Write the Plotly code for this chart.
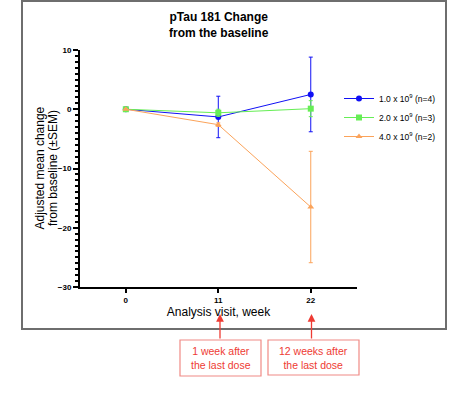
import plotly.graph_objects as go

# Visits (weeks) and adjusted mean change from baseline with SEM
weeks = [0, 11, 22]
dose_labels = ["1.0 x 10<sup>9</sup> (n=4)", "2.0 x 10<sup>9</sup> (n=3)", "4.0 x 10<sup>9</sup> (n=2)"]
mean_low = [0.0, -1.3, 2.5]
sem_low = [0.0, 3.5, 6.3]
mean_mid = [0.0, -0.6, 0.1]
sem_mid = [0.0, 0.6, 1.35]
mean_high = [0.0, -2.6, -16.5]
sem_high = [0.0, 0.3, 9.4]

colors = ["#1010f5", "#66ee55", "#fba35a"]
symbols = ["circle", "square", "triangle-up"]
means = [mean_low, mean_mid, mean_high]
sems = [sem_low, sem_mid, sem_high]

W, H = 449, 404
L, R, T, B = 80, 92, 50, 117
pw, ph = W - L - R, H - T - B


def px(x):
    return (x - L) / pw


def py(y):
    return (H - B - y) / ph


fig = go.Figure()
for lab, m, s, c, sym in zip(dose_labels, means, sems, colors, symbols):
    fig.add_trace(go.Scatter(
        x=weeks, y=m, name=lab, mode="lines+markers",
        line=dict(color=c, width=1),
        marker=dict(symbol=sym, size=6, color=c),
        error_y=dict(type="data", array=s, visible=True, color=c, thickness=1, width=2),
    ))

fam = "Liberation Sans, Arial"
fig.update_xaxes(
    range=[-5.45, 27.5], tickvals=weeks, ticktext=[str(w) for w in weeks],
    showline=True, linecolor="black", linewidth=2, ticks="outside", ticklen=4,
    tickwidth=1.5, tickcolor="black", showgrid=False, zeroline=False, automargin=False,
    tickfont=dict(family=fam, size=8, color="black", weight="bold"),
    title=dict(text="Analysis visit, week", font=dict(family=fam, size=12, color="black"), standoff=4),
)
fig.update_yaxes(
    range=[-30, 10], tickvals=[-30, -20, -10, 0, 10], showline=True, linecolor="black",
    linewidth=2, ticks="outside", ticklen=5, tickwidth=1.5, tickcolor="black",
    minor=dict(dtick=1, ticks="outside", ticklen=3, tickwidth=1.5, tickcolor="black"),
    showgrid=False, zeroline=False, automargin=False,
    tickfont=dict(family=fam, size=8, color="black", weight="bold"),
)

red = "#ee3b33"
shapes = [
    # outer frame
    dict(type="rect", xref="paper", yref="paper", x0=px(22), x1=px(446), y0=py(1), y1=py(329),
         line=dict(color="#6e6e6e", width=2)),
    # note boxes
    dict(type="rect", xref="paper", yref="paper", x0=px(180), x1=px(261), y0=py(340), y1=py(376),
         line=dict(color="#f08a85", width=1.2)),
    dict(type="rect", xref="paper", yref="paper", x0=px(268), x1=px(359), y0=py(340), y1=py(375),
         line=dict(color="#f08a85", width=1.2)),
]

centered = dict(xref="paper", yref="paper", xanchor="center", yanchor="middle", showarrow=False)
annotations = [
    dict(text="<b>pTau 181 Change<br>from the baseline</b>", x=px(219), y=py(25),
         font=dict(family=fam, size=12, color="black"), **centered),
    # two-line y-axis title, one line per annotation for tighter spacing
    dict(text="Adjusted mean change", x=px(39.5), y=py(168), textangle=-90,
         font=dict(family=fam, size=12, color="black"), **centered),
    dict(text="from baseline (±SEM)", x=px(53), y=py(168), textangle=-90,
         font=dict(family=fam, size=12, color="black"), **centered),
    dict(text="1 week after<br>the last dose", x=px(220.5), y=py(358),
         font=dict(family=fam, size=10.5, color=red), **centered),
    dict(text="12 weeks after<br>the last dose", x=px(313.5), y=py(357.5),
         font=dict(family=fam, size=10.5, color=red), **centered),
]
for xa in (220, 311.5):
    annotations.append(dict(
        xref="paper", yref="paper", axref="pixel", ayref="pixel",
        x=px(xa), y=py(314), ax=0, ay=26, text="", showarrow=True,
        arrowhead=2, arrowsize=1.2, arrowwidth=1.3, arrowcolor=red,
    ))

fig.update_layout(
    width=W, height=H, margin=dict(l=L, r=R, t=T, b=B, autoexpand=False),
    plot_bgcolor="white", paper_bgcolor="white",
    font=dict(family=fam),
    showlegend=True,
    legend=dict(x=px(339), y=py(84), xanchor="left", yanchor="top",
                font=dict(family=fam, size=8.5, color="black"),
                itemwidth=30, tracegroupgap=0, bgcolor="rgba(0,0,0,0)"),
    shapes=shapes, annotations=annotations,
)

fig.write_html("out.html")
